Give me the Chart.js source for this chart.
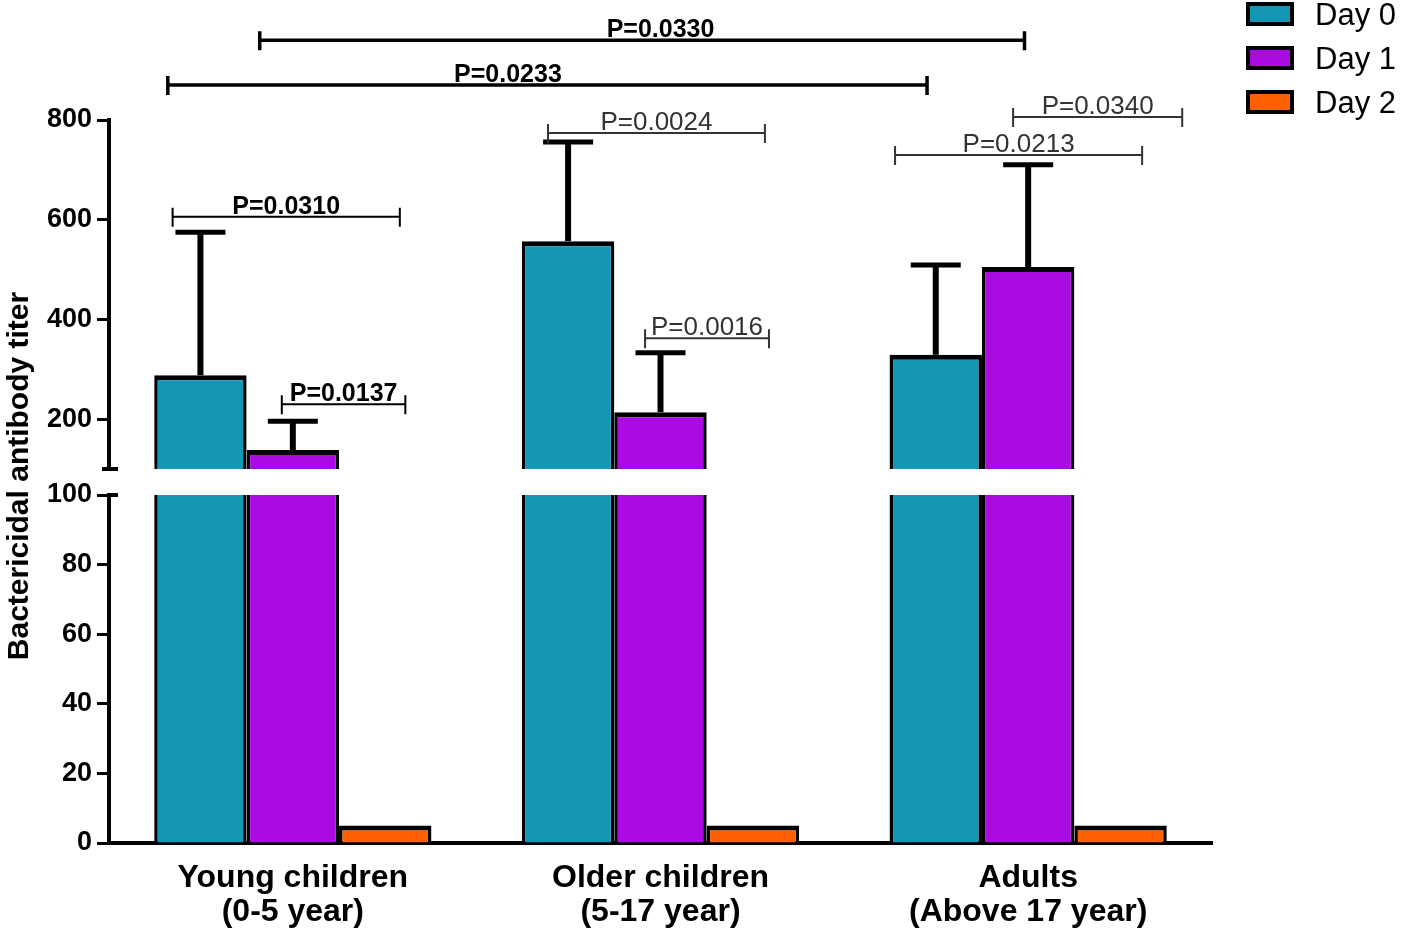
<!DOCTYPE html>
<html>
<head>
<meta charset="utf-8">
<script src="https://cdn.jsdelivr.net/npm/chart.js@4.4.1/dist/chart.umd.min.js"></script>
<style>
  html, body { margin: 0; padding: 0; background: #fff; }
  #wrap { position: relative; width: 1403px; height: 928px; }
  #wrap canvas { position: absolute; left: 0; top: 0; }
</style>
</head>
<body>
<div id="wrap">
  <canvas id="upper" width="1403" height="928"></canvas>
  <canvas id="lower" width="1403" height="928"></canvas>
</div>
<script>
// data
const categories = [["Young children", "(0-5 year)"], ["Older children", "(5-17 year)"], ["Adults", "(Above 17 year)"]];
const seriesNames = ["Day 0", "Day 1", "Day 2"];
const day0 = [288, 557, 329];
const day1 = [138, 214, 505];
const day2 = [5, 5, 5];
const day0Err = [287, 199, 180];
const day1Err = [58, 119, 205];
const highTicks = [200, 400, 600, 800];
const lowTicks = [0, 20, 40, 60, 80, 100];
const yTitle = "Bactericidal antibody titer";

// significance brackets (x in category units, level in titer units)
const pBrackets = [
  { text: "P=0.0330", from: -0.09, to: 1.99, at: 1.0, level: 960, bold: true },
  { text: "P=0.0233", from: -0.34, to: 1.725, at: 0.585, level: 870, bold: true },
  { text: "P=0.0310", from: -0.327, to: 0.291, level: 606, bold: true },
  { text: "P=0.0137", from: -0.03, to: 0.306, level: 230, bold: true },
  { text: "P=0.0024", from: 0.694, to: 1.284, level: 774, bold: false },
  { text: "P=0.0016", from: 0.958, to: 1.295, level: 362, bold: false },
  { text: "P=0.0340", from: 1.959, to: 2.419, level: 806, bold: false },
  { text: "P=0.0213", from: 1.638, to: 2.310, level: 730, bold: false }
];

const colors = ["#1497B4", "#A90BE0", "#FF6100"];
const FONT = "'Liberation Sans', Arial, sans-serif";
const AXIS_W = 109;
const RIGHT_PAD = 191;

function makeDatasets() {
  const vals = [day0, day1, day2];
  const errs = [day0Err, day1Err, null];
  return vals.map((v, i) => ({
    label: seriesNames[i],
    data: v,
    errors: errs[i],
    backgroundColor: colors[i],
    borderColor: "#000",
    borderWidth: { top: 5, left: 3.5, right: 3.5, bottom: 0 },
    borderSkipped: false,
    categoryPercentage: 0.754,
    barPercentage: 1,
    clip: 0
  }));
}

function yAxis(min, max, ticks) {
  return {
    min: min,
    max: max,
    afterBuildTicks: s => { s.ticks = ticks.map(v => ({ value: v })); },
    afterFit: s => { s.width = AXIS_W; },
    border: { color: "#000", width: 4 },
    grid: { drawOnChartArea: false, drawTicks: true, tickLength: 12, tickWidth: 3, tickColor: "#000" },
    ticks: { color: "#000", padding: 5, font: { family: FONT, size: 27, weight: "bold" } }
  };
}

const errorBarPlugin = {
  id: "errorBars",
  afterDatasetsDraw(chart) {
    const ctx = chart.ctx;
    const y = chart.scales.y;
    ctx.save();
    ctx.strokeStyle = "#000";
    chart.data.datasets.forEach((ds, i) => {
      if (!ds.errors) return;
      chart.getDatasetMeta(i).data.forEach((bar, j) => {
        const top = y.getPixelForValue(ds.data[j] + ds.errors[j]);
        ctx.lineWidth = 6;
        ctx.beginPath();
        ctx.moveTo(bar.x, bar.y);
        ctx.lineTo(bar.x, top);
        ctx.stroke();
        ctx.lineWidth = 5;
        ctx.beginPath();
        ctx.moveTo(bar.x - 25, top);
        ctx.lineTo(bar.x + 25, top);
        ctx.stroke();
      });
    });
    ctx.restore();
  }
};

const bracketPlugin = {
  id: "brackets",
  afterDraw(chart) {
    const { ctx, scales: { x, y } } = chart;
    ctx.save();
    pBrackets.forEach(b => {
      const x1 = x.getPixelForValue(b.from);
      const x2 = x.getPixelForValue(b.to);
      const yy = y.getPixelForValue(b.level);
      const col = b.bold ? "#000" : "#333";
      ctx.strokeStyle = col;
      ctx.lineWidth = b.bold ? (b.level > 800 ? 3.5 : 2) : 2;
      ctx.beginPath();
      ctx.moveTo(x1, yy); ctx.lineTo(x2, yy);
      ctx.moveTo(x1, yy - 9); ctx.lineTo(x1, yy + 10);
      ctx.moveTo(x2, yy - 9); ctx.lineTo(x2, yy + 10);
      ctx.stroke();
      const tx = b.at !== undefined ? x.getPixelForValue(b.at) : (x1 + x2) / 2;
      ctx.fillStyle = col;
      ctx.font = (b.bold ? "bold 25px " : "26px ") + FONT;
      ctx.textAlign = "center";
      ctx.textBaseline = "alphabetic";
      ctx.fillText(b.text, tx, yy - 3);
    });
    ctx.restore();
  }
};

const legendPlugin = {
  id: "sideLegend",
  afterDraw(chart) {
    const ctx = chart.ctx;
    ctx.save();
    chart.data.datasets.forEach((ds, i) => {
      const cy = 14 + i * 44;
      ctx.fillStyle = "#000";
      ctx.fillRect(1246, cy - 12, 48, 24);
      ctx.fillStyle = ds.backgroundColor;
      ctx.fillRect(1250, cy - 8, 40, 16);
      ctx.fillStyle = "#000";
      ctx.font = "31px " + FONT;
      ctx.textAlign = "left";
      ctx.textBaseline = "alphabetic";
      ctx.fillText(ds.label, 1315, cy + 11);
    });
    ctx.restore();
  }
};

const breakPlugin = {
  id: "axisBreak",
  afterDraw(chart) {
    const { ctx, chartArea } = chart;
    ctx.save();
    ctx.strokeStyle = "#000";
    ctx.lineWidth = 4;
    ctx.beginPath();
    if (chart.canvas.id === "upper") {
      ctx.moveTo(chartArea.left - 7, chartArea.bottom);
      ctx.lineTo(chartArea.left + 9, chartArea.bottom);
    } else {
      ctx.moveTo(chartArea.left - 2, chartArea.top);
      ctx.lineTo(chartArea.left + 9, chartArea.top);
    }
    ctx.stroke();
    ctx.restore();
  }
};

const titlePlugin = {
  id: "yTitle",
  afterDraw(chart) {
    const ctx = chart.ctx;
    ctx.save();
    ctx.translate(28, 476);
    ctx.rotate(-Math.PI / 2);
    ctx.fillStyle = "#000";
    ctx.font = "bold 30px " + FONT;
    ctx.textAlign = "center";
    ctx.textBaseline = "alphabetic";
    ctx.fillText(yTitle, 0, 0);
    ctx.restore();
  }
};

const common = {
  responsive: false,
  animation: false,
  devicePixelRatio: 1,
  plugins: { legend: { display: false }, tooltip: { enabled: false } }
};

// upper segment: 100 - 800
new Chart(document.getElementById("upper"), {
  type: "bar",
  data: { labels: categories, datasets: makeDatasets() },
  options: {
    ...common,
    layout: { padding: { top: 120, bottom: 928 - 469, left: 0, right: RIGHT_PAD } },
    scales: {
      x: { display: false, offset: true },
      y: yAxis(100, 800, highTicks)
    }
  },
  plugins: [errorBarPlugin, bracketPlugin, legendPlugin, breakPlugin]
});

// lower segment: 0 - 100
new Chart(document.getElementById("lower"), {
  type: "bar",
  data: { labels: categories, datasets: makeDatasets() },
  options: {
    ...common,
    layout: { padding: { top: 495, bottom: 0, left: 0, right: RIGHT_PAD } },
    scales: {
      x: {
        offset: true,
        z: 1,
        afterFit: s => { s.height = 85; },
        border: { color: "#000", width: 4 },
        grid: { drawOnChartArea: false, drawTicks: false },
        ticks: { color: "#000", padding: 18, maxRotation: 0, font: { family: FONT, size: 32, weight: "bold", lineHeight: 1.06 } }
      },
      y: yAxis(0, 100, lowTicks)
    }
  },
  plugins: [breakPlugin, titlePlugin]
});
</script>
</body>
</html>
